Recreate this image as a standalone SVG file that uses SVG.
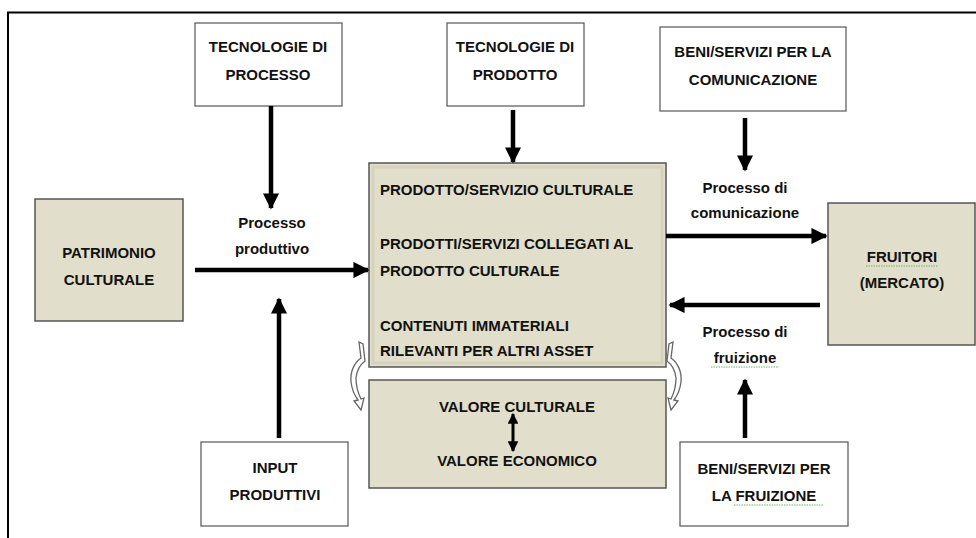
<svg xmlns="http://www.w3.org/2000/svg" width="976" height="538" viewBox="0 0 976 538">
<style>
  text { font-family: "Liberation Sans", Arial, sans-serif; font-weight: bold; font-size: 15px; fill: #111; }
  .c { text-anchor: middle; }
  .wbox { fill: #fff; stroke: #555; stroke-width: 1.2; }
  .gbox { fill: #e1decb; stroke: #555; stroke-width: 1.5; }
  .inner { fill: none; stroke: #d6d2bd; stroke-width: 3; }
  .line { stroke: #000; stroke-width: 4.5; fill: none; }
  .curl { fill: #fff; stroke: #666; stroke-width: 1.3; }
  .sq { stroke: #6cb86c; stroke-width: 1; stroke-dasharray: 1.5 1; fill: none; }
</style>
<defs>
  <marker id="ah" viewBox="0 0 10 10" refX="9" refY="5" markerWidth="3.6" markerHeight="3.6" orient="auto" markerUnits="strokeWidth">
    <path d="M0,0 L10,5 L0,10 z" fill="#000"/>
  </marker>
  <marker id="ah2" viewBox="0 0 10 10" refX="9" refY="5" markerWidth="3.6" markerHeight="3.6" orient="auto-start-reverse" markerUnits="strokeWidth">
    <path d="M0,0 L10,5 L0,10 z" fill="#000"/>
  </marker>
</defs>
<rect width="976" height="538" fill="#fff"/>
<path d="M8,540 L8,12.5 L980,12.5" fill="none" stroke="#000" stroke-width="2"/>

<g id="tec-processo">
  <rect class="wbox" x="195" y="23" width="147" height="83"/>
  <text class="c" x="268" y="52">TECNOLOGIE DI</text>
  <text class="c" x="268" y="80">PROCESSO</text>
</g>
<g id="tec-prodotto">
  <rect class="wbox" x="447" y="23" width="137" height="83"/>
  <text class="c" x="515" y="52">TECNOLOGIE DI</text>
  <text class="c" x="515" y="80">PRODOTTO</text>
</g>
<g id="beni-comunicazione">
  <rect class="wbox" x="660" y="27" width="186" height="84"/>
  <text class="c" x="753" y="57">BENI/SERVIZI PER LA</text>
  <text class="c" x="753" y="85">COMUNICAZIONE</text>
</g>
<g id="patrimonio">
  <rect class="gbox" x="35" y="199" width="148" height="122"/>
  <text class="c" x="109" y="258">PATRIMONIO</text>
  <text class="c" x="109" y="285">CULTURALE</text>
</g>
<g id="prodotto">
  <rect class="gbox" x="369" y="163" width="297" height="204"/>
  <rect class="inner" x="373" y="167" width="289" height="196"/>
  <text x="380" y="195">PRODOTTO/SERVIZIO CULTURALE</text>
  <text x="380" y="249">PRODOTTI/SERVIZI COLLEGATI AL</text>
  <text x="380" y="276">PRODOTTO CULTURALE</text>
  <text x="380" y="331">CONTENUTI IMMATERIALI</text>
  <text x="380" y="356">RILEVANTI PER ALTRI ASSET</text>
</g>
<g id="valore">
  <rect class="gbox" x="369" y="380" width="297" height="108"/>
  <text class="c" x="517" y="412">VALORE CULTURALE</text>
  <text class="c" x="517" y="466">VALORE ECONOMICO</text>
</g>
<g id="fruitori">
  <rect class="gbox" x="828" y="203" width="147" height="142"/>
  <text class="c" x="902" y="262">FRUITORI</text>
  <text class="c" x="902" y="288">(MERCATO)</text>
  <path class="sq" d="M866,266 L938,266"/>
</g>
<g id="input">
  <rect class="wbox" x="201" y="442" width="147" height="84"/>
  <text class="c" x="275" y="473">INPUT</text>
  <text class="c" x="275" y="500">PRODUTTIVI</text>
</g>
<g id="beni-fruizione">
  <rect class="wbox" x="680" y="442" width="168" height="84"/>
  <text class="c" x="764" y="474">BENI/SERVIZI PER</text>
  <text class="c" x="764" y="501">LA FRUIZIONE</text>
  <path class="sq" d="M734,505 L824,505"/>
</g>

<g id="connectors">
  <line class="line" x1="271" y1="106" x2="271" y2="208" marker-end="url(#ah)"/>
  <line class="line" x1="513" y1="110" x2="513" y2="162" marker-end="url(#ah)"/>
  <line class="line" x1="745" y1="118" x2="745" y2="170" marker-end="url(#ah)"/>
  <line class="line" x1="195" y1="270" x2="368" y2="270" marker-end="url(#ah)"/>
  <line class="line" x1="279" y1="438" x2="279" y2="299" marker-end="url(#ah)"/>
  <line class="line" x1="666" y1="236" x2="826" y2="236" marker-end="url(#ah)"/>
  <line class="line" x1="820" y1="305" x2="670" y2="305" marker-end="url(#ah)"/>
  <line class="line" x1="745" y1="438" x2="745" y2="380" marker-end="url(#ah)"/>
  <line x1="513" y1="414" x2="513" y2="451" stroke="#000" stroke-width="3" marker-start="url(#ah2)" marker-end="url(#ah2)"/>
  <path class="curl" d="M359,342 L361,358 C354,363 350,372 351,382 C352,390 355,396 358,400 L354,401 L361,410 L364,398 L361,399 C358,393 356,386 356,378 C357,369 361,364 365,361 L363,344 Z"/>
  <path class="curl" d="M673,342 L671,358 C678,363 682,372 681,382 C680,390 677,396 674,400 L678,401 L671,410 L668,398 L671,399 C674,393 676,386 676,378 C675,369 671,364 667,361 L669,344 Z"/>
  <text class="c" x="272" y="228">Processo</text>
  <text class="c" x="272" y="254">produttivo</text>
  <text class="c" x="745" y="193">Processo di</text>
  <text class="c" x="745" y="218">comunicazione</text>
  <text class="c" x="745" y="337">Processo di</text>
  <text class="c" x="745" y="363">fruizione</text>
  <path class="sq" d="M711,367 L779,367"/>
</g>
</svg>
